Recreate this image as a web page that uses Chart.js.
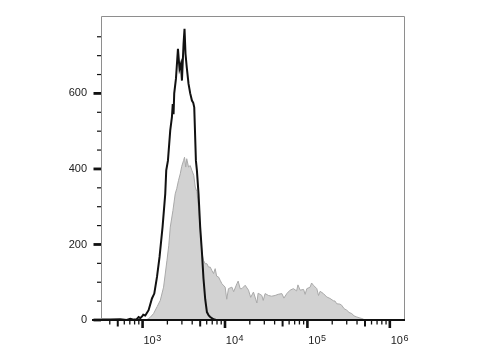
<!DOCTYPE html>
<html><head><meta charset="utf-8">
<script src="https://cdn.jsdelivr.net/npm/chart.js@4.4.0/dist/chart.umd.min.js"></script>
<style>html,body{margin:0;padding:0;background:#fff}canvas{display:block}</style>
</head><body>
<canvas id="c" width="480" height="360"></canvas>
<script>
// Black (unfilled) histogram: fluorescence intensity and event counts
const blackX = [320, 406, 537, 640, 710, 780, 839, 895, 938, 991, 1019, 1078, 1183, 1300, 1387, 1496, 1607, 1747, 1884, 1937, 2031, 2166, 2270, 2323, 2376, 2421, 2541, 2687, 2748, 2807, 2918, 3004, 3141, 3228, 3318, 3433, 3612, 3785, 3971, 4119, 4236, 4437, 4562, 4775, 5000, 5248, 5483, 5754, 6036, 6343, 6622, 7262, 7816, 1600000];
const blackY = [1, 1, 2, 0, 3, 1, 1, 8, 5, 10, 14, 12, 26, 57, 70, 114, 167, 246, 334, 396, 422, 502, 537, 572, 545, 600, 639, 718, 690, 665, 678, 634, 731, 771, 705, 670, 625, 600, 581, 575, 563, 422, 396, 334, 246, 180, 110, 55, 21, 12, 8, 2, 0, 0];

// Gray (filled) histogram
const grayX = [1109, 1183, 1239, 1359, 1507, 1640, 1798, 1977, 2080, 2168, 2335, 2489, 2598, 2731, 2864, 2986, 3141, 3228, 3340, 3433, 3612, 3785, 3971, 4178, 4355, 4562, 4775, 5000, 5248, 5483, 5754, 6036, 6310, 6622, 6934, 7262, 7603, 7925, 8337, 8750, 9170, 10050, 10500, 11020, 12130, 12740, 13940, 14450, 15280, 16030, 17570, 19270, 20510, 22150, 24380, 25240, 27990, 29100, 30690, 33650, 36800, 40570, 44150, 48950, 51900, 56260, 61700, 67650, 73940, 76760, 81560, 89950, 93760, 98380, 107900, 112400, 118300, 130000, 136400, 142600, 156400, 171700, 188300, 206600, 216700, 226800, 248800, 261000, 278500, 300400, 320200, 345300, 368200, 396800, 423400, 456300, 500000];
const grayY = [0, 4, 7, 17, 36, 52, 87, 158, 198, 246, 290, 334, 348, 370, 387, 407, 422, 431, 405, 427, 405, 409, 396, 383, 352, 340, 300, 240, 180, 158, 149, 149, 140, 140, 131, 123, 136, 116, 114, 105, 96, 87, 55, 83, 87, 75, 96, 103, 83, 83, 92, 79, 60, 74, 45, 71, 65, 52, 70, 65, 63, 65, 68, 70, 58, 70, 79, 83, 77, 93, 79, 81, 68, 83, 87, 98, 92, 83, 65, 76, 70, 61, 57, 51, 50, 43, 42, 39, 30, 26, 20, 17, 11, 8, 6, 4, 0];

// Tick values and labels
const xTicks = [400, 500, 600, 700, 800, 900, 1000, 2000, 3000, 4000, 5000, 6000, 7000, 8000, 9000, 10000, 20000, 30000, 40000, 50000, 60000, 70000, 80000, 90000, 100000, 200000, 300000, 400000, 500000, 600000, 700000, 800000, 900000, 1000000];
const xLabelValues = [1000, 10000, 100000, 1000000];
const xLabelBase = '10';
const xLabelExp = ['3', '4', '5', '6'];
const yTicks = [0, 50, 100, 150, 200, 250, 300, 350, 400, 450, 500, 550, 600, 650, 700, 750];
const yLabelValues = [0, 200, 400, 600];

const FONT = '"Liberation Sans", Arial, sans-serif';

const decor = {
  id: 'decor',
  afterDraw(chart) {
    const {ctx, chartArea: a, scales: {x, y}} = chart;
    ctx.save();
    ctx.strokeStyle = '#8e8e8e'; ctx.lineWidth = 1;
    ctx.beginPath();
    ctx.moveTo(a.left + 0.5, a.bottom);
    ctx.lineTo(a.left + 0.5, a.top + 0.5);
    ctx.lineTo(a.right - 0.5, a.top + 0.5);
    ctx.lineTo(a.right - 0.5, a.bottom);
    ctx.stroke();
    ctx.strokeStyle = '#111';
    ctx.lineWidth = 2;
    ctx.beginPath(); ctx.moveTo(a.left - 9, a.bottom); ctx.lineTo(a.right, a.bottom); ctx.stroke();
    x.ticks.forEach(t => {
      const px = x.getPixelForValue(t.value);
      const m = Math.round(t.value / Math.pow(10, Math.floor(Math.log10(t.value) + 1e-9)));
      let len = 4.5, w = 1.3;
      if (m === 1) { len = 8; w = 2.6; } else if (m === 5) { len = 6.5; w = 2; }
      ctx.lineWidth = w;
      ctx.beginPath(); ctx.moveTo(px, a.bottom); ctx.lineTo(px, a.bottom + len); ctx.stroke();
    });
    y.ticks.forEach(t => {
      const py = y.getPixelForValue(t.value);
      const major = yLabelValues.includes(t.value);
      const len = major ? 7.5 : 4, w = major ? 2.8 : 1.2;
      ctx.lineWidth = w;
      ctx.beginPath(); ctx.moveTo(a.left, py); ctx.lineTo(a.left - len, py); ctx.stroke();
    });
    ctx.fillStyle = '#222';
    ctx.textAlign = 'left'; ctx.textBaseline = 'alphabetic';
    ctx.font = '11px ' + FONT;
    const bw = ctx.measureText(xLabelBase).width;
    ctx.font = '9px ' + FONT;
    xLabelValues.forEach((v, i) => {
      const px = x.getPixelForValue(v);
      ctx.fillText(xLabelExp[i], px + 7 + bw / 2 + 0.5, a.bottom + 20.5);
    });
    ctx.restore();
  }
};

new Chart(document.getElementById('c'), {
  type: 'line',
  data: {
    datasets: [
      {
        data: blackX.map((v, i) => ({x: v, y: blackY[i]})),
        borderColor: '#111', borderWidth: 2, fill: false, order: 1,
        pointRadius: 0, tension: 0
      },
      {
        data: grayX.map((v, i) => ({x: v, y: grayY[i]})),
        borderColor: '#a9a9a9', borderWidth: 1, backgroundColor: '#d2d2d2',
        fill: 'origin', order: 2, pointRadius: 0, tension: 0
      }
    ]
  },
  options: {
    responsive: false, animation: false, parsing: true,
    layout: {padding: {left: 0, right: 75, top: 16, bottom: 0}},
    plugins: {legend: {display: false}, tooltip: {enabled: false}},
    scales: {
      x: {
        type: 'logarithmic', min: 313, max: 1528000,
        afterBuildTicks: s => { s.ticks = xTicks.map(v => ({value: v})); },
        afterFit: s => { s.height = 40; s.paddingLeft = 0; s.paddingRight = 0; },
        grid: {display: false, drawTicks: false},
        border: {display: false},
        ticks: {
          autoSkip: false, maxRotation: 0, minRotation: 0, padding: 14, labelOffset: 7,
          color: '#222', font: {family: FONT, size: 11},
          callback: v => xLabelValues.includes(v) ? xLabelBase : ''
        }
      },
      y: {
        min: 0, max: 805,
        afterBuildTicks: s => { s.ticks = yTicks.map(v => ({value: v})); },
        afterFit: s => { s.width = 101; s.paddingTop = 0; s.paddingBottom = 0; },
        grid: {display: false, drawTicks: false},
        border: {display: false},
        ticks: {
          autoSkip: false, padding: 14, color: '#222', font: {family: FONT, size: 11},
          callback: v => yLabelValues.includes(v) ? String(v) : ''
        }
      }
    }
  },
  plugins: [decor]
});
</script>
</body></html>
